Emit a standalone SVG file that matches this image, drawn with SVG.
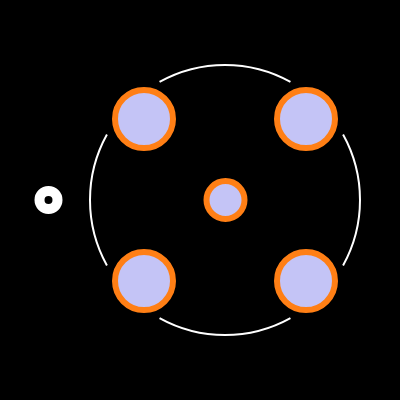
<svg xmlns="http://www.w3.org/2000/svg" width="400" height="400" viewBox="0 0 400 400">
<style>
.node{fill:#c4c4f6;stroke:#ff7f15;stroke-width:6}
.arc{fill:none;stroke:#ffffff;stroke-width:2}
</style>
<rect width="400" height="400" fill="#000000"/>
<g id="connectors">
<path class="arc" d="M159.55,81.93 A135,135 0 0 1 290.45,81.93"/>
<path class="arc" d="M343.07,134.55 A135,135 0 0 1 343.07,265.45"/>
<path class="arc" d="M290.45,318.07 A135,135 0 0 1 159.55,318.07"/>
<path class="arc" d="M106.93,265.45 A135,135 0 0 1 106.93,134.55"/>
</g>
<g id="marker-left"><circle cx="48.5" cy="200" r="9" fill="none" stroke="#ffffff" stroke-width="10"/></g>
<g id="node-tl"><circle class="node" cx="144" cy="119" r="29"/></g>
<g id="node-tr"><circle class="node" cx="306" cy="119" r="29"/></g>
<g id="node-bl"><circle class="node" cx="144" cy="281" r="29"/></g>
<g id="node-br"><circle class="node" cx="306" cy="281" r="29"/></g>
<g id="node-center"><circle class="node" cx="225.5" cy="200" r="19"/></g>
</svg>
